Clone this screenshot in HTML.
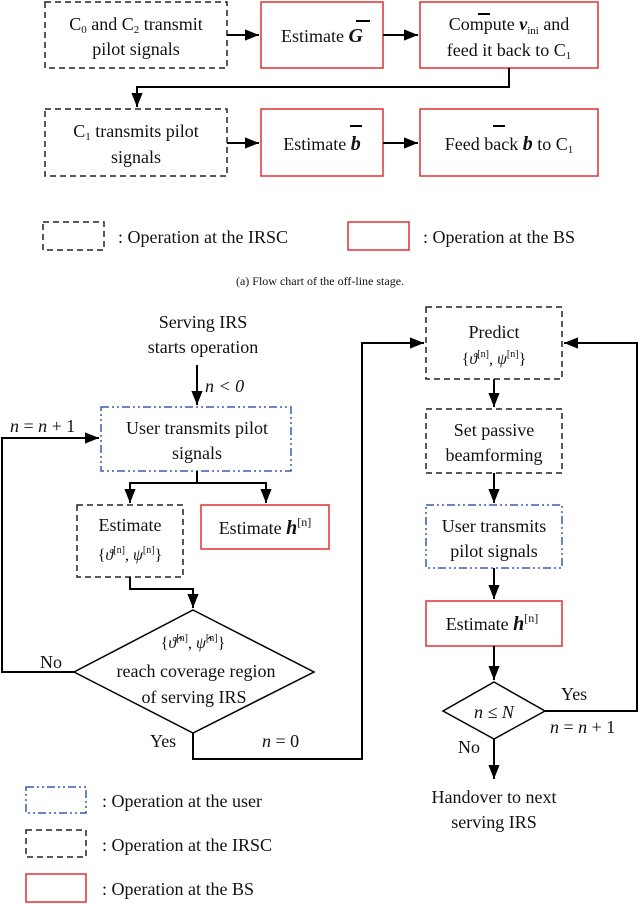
<!DOCTYPE html>
<html><head><meta charset="utf-8"><style>
html,body{margin:0;padding:0;background:#fff}
svg{display:block}
text{font-family:"Liberation Serif",serif;fill:#111}
</style></head><body>
<svg width="640" height="904" viewBox="0 0 640 904" xmlns="http://www.w3.org/2000/svg">
<defs><marker id="a" viewBox="0 0 10 10" refX="10" refY="5" markerWidth="7" markerHeight="7" orient="auto-start-reverse"><path d="M0,1 L10,5 L0,9 z" fill="#000"/></marker></defs>
<g fill="none" stroke-width="1.5">
<rect x="45" y="2" width="182" height="66" stroke="#222" stroke-dasharray="6,4"/>
<rect x="261" y="2" width="122" height="66" stroke="#e03030"/>
<rect x="420" y="2" width="178" height="66" stroke="#e03030"/>
<rect x="45" y="109" width="182" height="67" stroke="#222" stroke-dasharray="6,4"/>
<rect x="261" y="109" width="122" height="67" stroke="#e03030"/>
<rect x="420" y="109" width="178" height="67" stroke="#e03030"/>
<rect x="43" y="222" width="61" height="28" stroke="#222" stroke-dasharray="6,4"/>
<rect x="348" y="222" width="61" height="28" stroke="#e03030"/>
</g>
<g stroke="#000" stroke-width="2" fill="none">
<line x1="227" y1="35" x2="259" y2="35" marker-end="url(#a)"/>
<line x1="383" y1="35" x2="418" y2="35" marker-end="url(#a)"/>
<polyline points="509,68 509,87 137,87 137,107" marker-end="url(#a)"/>
<line x1="227" y1="143" x2="259" y2="143" marker-end="url(#a)"/>
<line x1="383" y1="143" x2="418" y2="143" marker-end="url(#a)"/>
</g>
<g font-size="18" text-anchor="middle">
<text x="136" y="30">C<tspan font-size="11" dy="3">0</tspan><tspan dy="-3"> and C</tspan><tspan font-size="11" dy="3">2</tspan><tspan dy="-3"> transmit</tspan></text>
<text x="136" y="55">pilot signals</text>
<text x="322" y="42">Estimate <tspan font-weight="bold" font-style="italic" font-size="20">G</tspan></text>
<line x1="356" y1="21" x2="370" y2="21" stroke="#000" stroke-width="2"/>
<text x="509" y="30">Compute <tspan font-weight="bold" font-style="italic">ν</tspan><tspan font-size="11" dy="4">ini</tspan><tspan dy="-4"> and</tspan></text>
<text x="509" y="56">feed it back to C<tspan font-size="11" dy="3">1</tspan></text>
<line x1="478" y1="14" x2="490" y2="14" stroke="#000" stroke-width="2"/>
<text x="136" y="137">C<tspan font-size="11" dy="3">1</tspan><tspan dy="-3"> transmits pilot</tspan></text>
<text x="136" y="163">signals</text>
<text x="322" y="150">Estimate <tspan font-weight="bold" font-style="italic" font-size="20">b</tspan></text>
<line x1="350" y1="126" x2="362" y2="126" stroke="#000" stroke-width="2"/>
<text x="509" y="150">Feed back  <tspan font-weight="bold" font-style="italic" font-size="20">b</tspan>  to C<tspan font-size="11" dy="3">1</tspan></text>
<line x1="493" y1="126" x2="505" y2="126" stroke="#000" stroke-width="2"/>
</g>
<g font-size="18">
<text x="118" y="243">: Operation at the IRSC</text>
<text x="423" y="243">: Operation at the BS</text>
</g>
<text x="320" y="285" font-size="12" text-anchor="middle">(a) Flow chart of the off-line stage.</text>
<!-- part b -->
<g fill="none" stroke-width="1.5">
<rect x="101" y="407" width="190" height="64" stroke="#3a5bb0" stroke-dasharray="8,3,2,3,2,3"/>
<rect x="77" y="505" width="106" height="72" stroke="#222" stroke-dasharray="6,4"/>
<rect x="201" y="505" width="128" height="44" stroke="#e03030"/>
<polygon points="193,610 314,672 193,733 74,672" stroke="#000"/>
<rect x="426" y="307" width="136" height="72" stroke="#222" stroke-dasharray="6,4"/>
<rect x="426" y="409" width="136" height="64" stroke="#222" stroke-dasharray="6,4"/>
<rect x="426" y="505" width="136" height="63" stroke="#3a5bb0" stroke-dasharray="8,3,2,3,2,3"/>
<rect x="426" y="601" width="136" height="45" stroke="#e03030"/>
<polygon points="494,682 545,711 494,739 443,711" stroke="#000"/>
<rect x="26" y="787" width="60" height="26" stroke="#3a5bb0" stroke-dasharray="8,3,2,3,2,3"/>
<rect x="26" y="830" width="60" height="27" stroke="#222" stroke-dasharray="6,4"/>
<rect x="26" y="874" width="60" height="28" stroke="#e03030"/>
</g>
<g stroke="#000" stroke-width="2" fill="none">
<line x1="197" y1="365" x2="197" y2="405" marker-end="url(#a)"/>
<polyline points="197,471 197,483 130,483 130,503" marker-end="url(#a)"/>
<polyline points="197,483 266,483 266,503" marker-end="url(#a)"/>
<polyline points="130,577 130,589 193,589 193,608" marker-end="url(#a)"/>
<polyline points="74,672 2,672 2,438 99,438" marker-end="url(#a)"/>
<polyline points="193,733 193,759 362,759 362,343 424,343" marker-end="url(#a)"/>
<line x1="494" y1="379" x2="494" y2="407" marker-end="url(#a)"/>
<line x1="494" y1="473" x2="494" y2="503" marker-end="url(#a)"/>
<line x1="494" y1="568" x2="494" y2="599" marker-end="url(#a)"/>
<line x1="494" y1="646" x2="494" y2="680" marker-end="url(#a)"/>
<polyline points="545,711 637,711 637,343 564,343" marker-end="url(#a)"/>
<line x1="494" y1="739" x2="494" y2="779" marker-end="url(#a)"/>
</g>
<g font-size="18" text-anchor="middle">
<text x="203" y="328">Serving IRS</text>
<text x="203" y="353">starts operation</text>
<text x="197" y="434">User transmits pilot</text>
<text x="197" y="459">signals</text>
<text x="130" y="531">Estimate</text>
<text x="130" y="560" font-size="16">{<tspan font-style="italic">ϑ</tspan><tspan font-size="10" dy="-7">[n]</tspan><tspan dy="7">, </tspan><tspan font-style="italic">ψ</tspan><tspan font-size="10" dy="-7">[n]</tspan><tspan dy="7">}</tspan></text>
<text x="265" y="534">Estimate <tspan font-weight="bold" font-style="italic" font-size="20">h</tspan><tspan font-size="12" dy="-8">[n]</tspan></text>
<text x="193" y="648" font-size="16">{<tspan font-style="italic">ϑ̂</tspan><tspan font-size="10" dy="-7">[n]</tspan><tspan dy="7">, </tspan><tspan font-style="italic">ψ̂</tspan><tspan font-size="10" dy="-7">[n]</tspan><tspan dy="7">}</tspan></text>
<text x="196" y="677">reach coverage region</text>
<text x="194" y="703">of serving IRS</text>
<text x="494" y="338">Predict</text>
<text x="494" y="364" font-size="16">{<tspan font-style="italic">ϑ</tspan><tspan font-size="10" dy="-7">[n]</tspan><tspan dy="7">, </tspan><tspan font-style="italic">ψ</tspan><tspan font-size="10" dy="-7">[n]</tspan><tspan dy="7">}</tspan></text>
<text x="494" y="436">Set passive</text>
<text x="494" y="461">beamforming</text>
<text x="494" y="532">User transmits</text>
<text x="494" y="557">pilot signals</text>
<text x="492" y="630">Estimate <tspan font-weight="bold" font-style="italic" font-size="20">h</tspan><tspan font-size="12" dy="-8">[n]</tspan></text>
<text x="494" y="718" font-style="italic">n ≤ N</text>
<text x="494" y="803">Handover to next</text>
<text x="494" y="828">serving IRS</text>
</g>
<g font-size="18">
<text x="205" y="392" font-style="italic">n &lt; 0</text>
<text x="10" y="432"><tspan font-style="italic">n</tspan> = <tspan font-style="italic">n</tspan> + 1</text>
<text x="40" y="668">No</text>
<text x="150" y="747">Yes</text>
<text x="262" y="747"><tspan font-style="italic">n</tspan> = 0</text>
<text x="561" y="700">Yes</text>
<text x="550" y="733"><tspan font-style="italic">n</tspan> = <tspan font-style="italic">n</tspan> + 1</text>
<text x="458" y="753">No</text>
<text x="102" y="807">: Operation at the user</text>
<text x="102" y="851">: Operation at the IRSC</text>
<text x="102" y="895">: Operation at the BS</text>
</g>
</svg>
</body></html>
